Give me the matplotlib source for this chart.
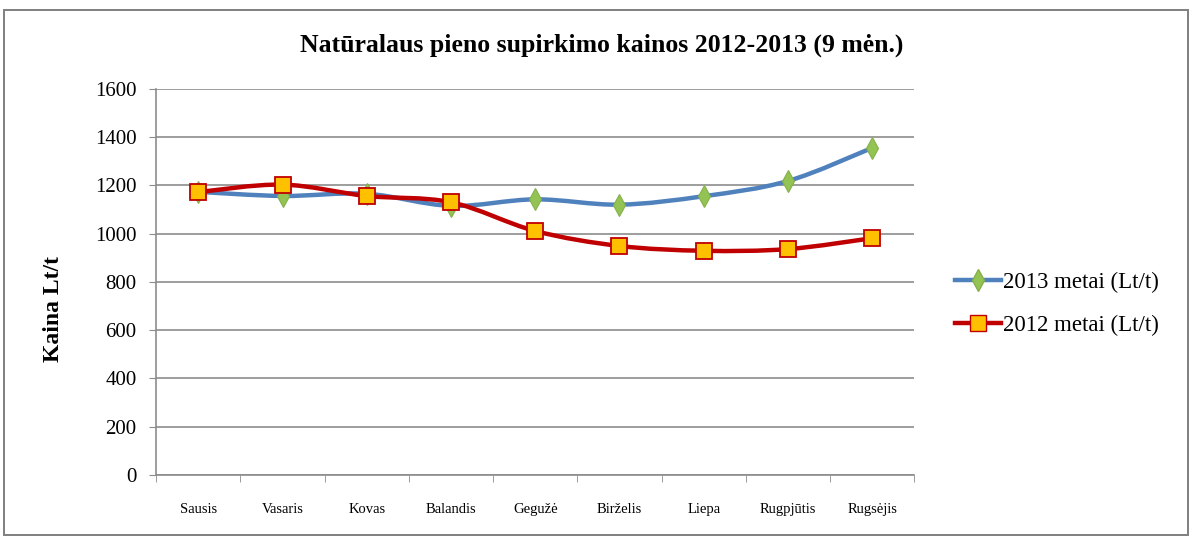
import matplotlib
matplotlib.use("Agg")
import matplotlib.pyplot as plt
from matplotlib.path import Path
from matplotlib.patches import PathPatch, Rectangle
from matplotlib.lines import Line2D

months = ["Sausis", "Vasaris", "Kovas", "Balandis", "Gegužė",
          "Birželis", "Liepa", "Rugpjūtis", "Rugsėjis"]
metai_2013 = [1173, 1156, 1165, 1115, 1142, 1120, 1155, 1218, 1355]
metai_2012 = [1172, 1203, 1156, 1130, 1011, 949, 929, 936, 981]
yticks = [0, 200, 400, 600, 800, 1000, 1200, 1400, 1600]

plt.rcParams['font.family'] = ['Liberation Serif', 'DejaVu Serif']


def smooth_path(xs, ys):
    # Excel-like smoothed line: Catmull-Rom segments as cubic Beziers
    pts = list(zip(xs, ys))
    verts = [pts[0]]
    codes = [Path.MOVETO]
    n = len(pts)
    for i in range(n - 1):
        p0 = pts[i - 1] if i > 0 else pts[i]
        p1 = pts[i]
        p2 = pts[i + 1]
        p3 = pts[i + 2] if i + 2 < n else pts[i + 1]
        c1 = (p1[0] + (p2[0] - p0[0]) / 6, p1[1] + (p2[1] - p0[1]) / 6)
        c2 = (p2[0] - (p3[0] - p1[0]) / 6, p2[1] - (p3[1] - p1[1]) / 6)
        verts += [c1, c2, p2]
        codes += [Path.CURVE4] * 3
    return Path(verts, codes)


fig = plt.figure(figsize=(11.92, 5.38), dpi=100)
fig.patches.append(Rectangle((0.003, 0.006), 0.994, 0.976, transform=fig.transFigure,
                             fill=False, edgecolor='#7f7f7f', linewidth=1.4))
ax = fig.add_axes([0.131, 0.117, 0.636, 0.718])

x = list(range(len(months)))
blue = '#4F81BD'
red = '#C00000'

ax.add_patch(PathPatch(smooth_path(x, metai_2013), fill=False, edgecolor=blue,
                       linewidth=3.2, zorder=3, capstyle='round'))
ax.plot(x, metai_2013, linestyle='none', marker='d', markersize=11,
        markerfacecolor='#92C353', markeredgecolor='#86b04c', markeredgewidth=0.8, zorder=4)
ax.add_patch(PathPatch(smooth_path(x, metai_2012), fill=False, edgecolor=red,
                       linewidth=3.2, zorder=5, capstyle='round'))
ax.plot(x, metai_2012, linestyle='none', marker='s', markersize=11.5,
        markerfacecolor='#FFC000', markeredgecolor=red, markeredgewidth=1.3, zorder=6)

ax.set_xlim(-0.5, len(months) - 0.5)
ax.set_ylim(0, 1600)
ax.set_yticks(yticks)
ax.set_yticklabels([str(v) for v in yticks], fontsize=15)
ax.set_xticks(x)
ax.set_xticklabels(months, fontsize=10.5)
ax.set_xticks([i - 0.5 for i in range(len(months) + 1)], minor=True)
ax.tick_params(axis='x', which='major', length=0, pad=20)
ax.tick_params(axis='x', which='minor', length=5, color='#8c8c8c')
ax.tick_params(axis='y', length=5, color='#8c8c8c', pad=9)
ax.grid(axis='y', color='#8c8c8c', linewidth=1.2)
ax.set_axisbelow(True)
for s in ['top', 'right']:
    ax.spines[s].set_visible(False)
for s in ['left', 'bottom']:
    ax.spines[s].set_color('#8c8c8c')
    ax.spines[s].set_linewidth(1.2)

ax.set_ylabel("Kaina Lt/t", fontsize=17, fontweight='bold')
ax.yaxis.set_label_coords(-0.122, 0.43)
fig.text(0.505, 0.915, "Natūralaus pieno supirkimo kainos 2012-2013 (9 mėn.)",
         ha='center', va='center', fontsize=18.5, fontweight='bold')

handles = [
    Line2D([], [], color=blue, linewidth=3.2, marker='d', markersize=11,
           markerfacecolor='#92C353', markeredgecolor='#86b04c'),
    Line2D([], [], color=red, linewidth=3.2, marker='s', markersize=11,
           markerfacecolor='#FFC000', markeredgecolor=red),
]
fig.legend(handles, ["2013 metai (Lt/t)", "2012 metai (Lt/t)"], loc='center left',
           bbox_to_anchor=(0.784, 0.435), frameon=False, fontsize=16.5,
           handlelength=2.0, handletextpad=0.1, labelspacing=0.95)

fig.savefig("out.png", dpi=100)
